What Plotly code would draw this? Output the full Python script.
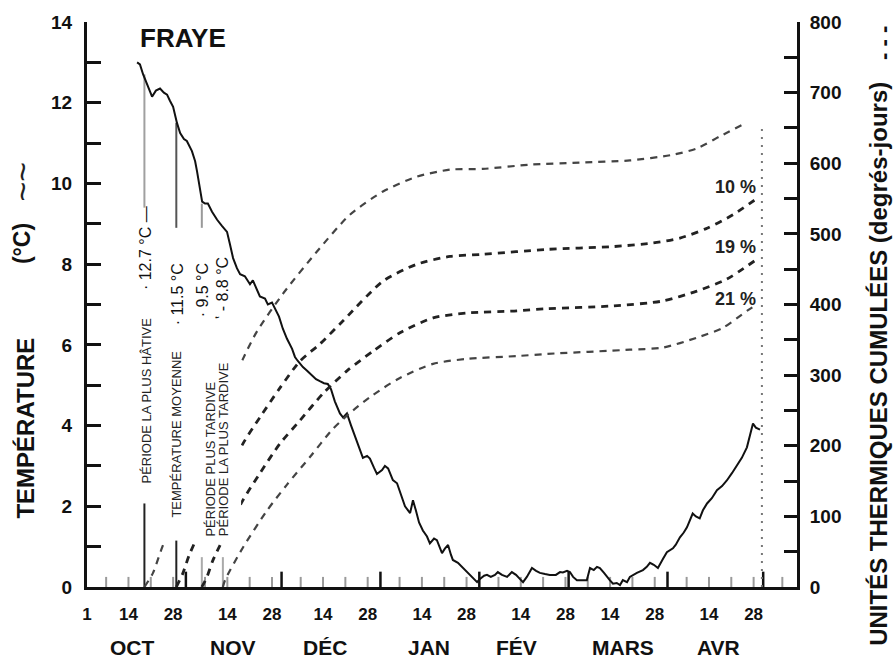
import plotly.graph_objects as go

# ---------------- data ----------------
# day index: 0 = 1 October
temp_day = [15.7,16.6,17.6,18.8,20.4,21.6,22.9,24.1,25.1,26.0,
            27.0,28.2,29.2,30.4,31.3,32.9,33.9,34.5,35.4,36.1,
            37.0,37.9,39.2,40.8,42.3,43.9,44.8,45.8,47.0,48.0,
            49.5,51.1,52.0,53.3,54.2,55.8,56.7,58.0,58.9,60.2,
            61.4,62.7,64.3,65.2,66.1,67.7,69.0,70.5,71.8,73.0,
            74.3,75.5,76.5,77.7,79.3,80.3,81.5,82.8,84.0,85.3,
            86.5,87.8,88.7,90.0,90.9,92.5,93.4,94.4,95.9,97.2,
            98.4,99.7,101.3,102.2,103.1,104.1,105.3,106.6,107.5,108.8,
            109.7,110.7,111.3,112.2,113.2,114.1,114.7,116.3,117.9,119.4,
            120.7,122.3,123.2,124.5,125.4,126.6,127.9,128.8,130.1,131.7,
            133.2,134.5,135.7,136.7,137.9,139.5,140.8,142.0,143.6,145.1,
            147.0,148.3,149.2,150.5,151.4,152.4,153.6,155.2,156.7,157.7,
            158.9,159.9,160.8,162.1,163.0,163.9,164.9,166.1,167.1,168.0,
            169.3,170.2,172.4,174.3,175.5,176.5,177.7,179.0,180.6,181.8,
            183.7,184.6,185.9,187.1,188.1,189.0,189.9,190.9,192.1,193.1,
            194.4,195.9,197.5,199.1,200.6,202.2,203.8,205.3,206.9,207.8,
            208.8,209.7,211.0]
temp_c = [13.0,12.95,12.7,12.45,12.15,12.3,12.35,12.25,12.2,12.05,
          11.9,11.5,11.25,11.1,11.05,10.8,10.55,10.3,9.9,9.55,
          9.5,9.5,9.3,9.1,8.95,8.8,8.5,8.15,7.9,7.75,
          7.7,7.5,7.6,7.35,7.2,7.15,7.0,7.05,6.9,6.7,
          6.4,6.15,5.9,5.7,5.6,5.45,5.36,5.25,5.15,5.1,
          5.05,5.03,4.9,4.6,4.3,4.2,4.3,4.0,3.75,3.45,
          3.2,3.25,3.18,2.95,2.8,2.9,3.0,2.94,2.65,2.57,
          2.3,2.0,1.83,2.15,1.9,1.6,1.4,1.25,1.08,1.2,
          1.16,0.95,0.84,0.95,1.04,0.8,0.67,0.6,0.47,0.35,
          0.25,0.12,0.2,0.28,0.3,0.25,0.3,0.37,0.3,0.25,
          0.37,0.3,0.2,0.12,0.25,0.47,0.4,0.35,0.32,0.3,
          0.3,0.37,0.36,0.4,0.37,0.25,0.17,0.17,0.17,0.47,
          0.42,0.5,0.47,0.35,0.25,0.17,0.08,0.1,0.05,0.17,
          0.12,0.25,0.35,0.42,0.5,0.6,0.55,0.47,0.7,0.86,
          0.96,1.05,1.23,1.35,1.48,1.65,1.82,1.75,1.7,1.9,
          2.07,2.2,2.4,2.5,2.64,2.82,3.0,3.2,3.46,3.75,
          4.05,3.95,3.9]

# cumulative thermal units (degree-days) for the four spawning dates
cum_a_day = [18.0,20.7,23.8,48.9,53.3,61.4,72.1,82.4,92.8,103.4,113.8,124.1,138.9,154.5,170.2,183.7,191.2,198.4,205.3]
cum_a_u   = [0,20,59,323,362,415,475,527,560,581,591,592,598,601,604,612,621,638,654]
cum_b_day = [28.0,30.1,32.3,48.9,54.2,60.5,66.8,73.0,80.3,92.8,103.4,113.8,124.1,144.2,164.9,177.4,185.9,194.4,202.5,210.0]
cum_b_u   = [0,20,48,203,240,282,320,344,377,433,457,468,471,478,482,487,494,508,527,550]
cum_c_day = [36.0,37.6,39.5,48.9,54.2,60.5,66.8,74.0,81.5,89.7,98.1,108.5,119.1,134.8,144.2,164.9,180.6,191.2,200.6,210.0]
cum_c_u   = [0,14,38,123,161,203,236,274,306,334,360,381,388,391,394,398,405,419,436,464]
cum_d_day = [42.6,43.3,48.9,56.4,62.7,69.9,77.1,83.4,89.7,98.1,108.5,119.1,134.8,144.2,170.2,180.6,191.2,199.4,206.9,210.0]
cum_d_u   = [0,10,56,108,145,184,224,250,272,296,316,323,327,330,336,339,353,367,391,400]

# spawning dates and temperatures
spawn_day = [18.0, 28.0, 36.0, 42.6]
spawn_temp = [12.7, 11.5, 9.5, 8.8]
spawn_temp_labels = ["· 12.7 °C —", "· 11.5 °C", "· 9.5 °C", "ʽ - 8.8 °C"]
spawn_period_labels = ["PÉRIODE LA PLUS HÂTIVE", "TEMPÉRATURE MOYENNE",
                       "PÉRIODE PLUS TARDIVE", "PÉRIODE LA PLUS TARDIVE"]

survival_labels = ["10 %", "19 %", "21 %"]
survival_u = [567, 482, 408]

emergence_day = 211.6      # 1er mai
emergence_top_u = 654

# axis labels
month_names = ["OCT", "NOV", "DÉC", "JAN", "FÉV", "MARS", "AVR"]
month_label_day = [14.4, 45.8, 74.6, 107.2, 134.8, 168.0, 198.0]
month_lengths = [31, 30, 31, 31, 28, 31, 30, 31]   # Oct .. May
xtick_days = [0, 13, 27, 44, 58, 74, 88, 105, 119, 136, 150, 164, 178, 195, 209]
xtick_text = ["1", "14", "28", "14", "28", "14", "28", "14", "28", "14", "28", "14", "28", "14", "28"]
temp_ticks = list(range(0, 15))
unit_ticks = list(range(0, 801, 50))

# ---------------- figure ----------------
X_MAX = 222.6
FONT = "Liberation Sans, Arial, Helvetica, sans-serif"

fig = go.Figure()

# tick marks along the time axis (weekly ticks + month starts)
month_starts = [0]
for m in month_lengths:
    month_starts.append(month_starts[-1] + m)
week_x, week_y, mon_x, mon_y = [], [], [], []
for s in month_starts:
    for k in (6, 13, 20, 27):
        d = s + k
        if d < X_MAX:
            week_x += [d, d, None]
            week_y += [0, 0.25, None]
    if 0 < s < X_MAX:
        mon_x += [s, s, None]
        mon_y += [0, 0.38, None]
fig.add_trace(go.Scatter(x=week_x, y=week_y, mode="lines",
                         line=dict(color="#9a9a9a", width=2), hoverinfo="skip"))
fig.add_trace(go.Scatter(x=mon_x, y=mon_y, mode="lines",
                         line=dict(color="#111", width=2.5), hoverinfo="skip"))

# cumulative degree-day curves (right axis)
curve_styles = [("#444", 2.2), ("#222", 2.8), ("#222", 2.8), ("#444", 2.2)]
for (dx, du), (col, w) in zip([(cum_a_day, cum_a_u), (cum_b_day, cum_b_u),
                                (cum_c_day, cum_c_u), (cum_d_day, cum_d_u)], curve_styles):
    fig.add_trace(go.Scatter(x=dx, y=du, yaxis="y2", mode="lines",
                             line=dict(color=col, width=w, dash="7px,6px",
                                       shape="spline", smoothing=0.7),
                             hoverinfo="skip"))

# emergence (1er mai) dotted line
fig.add_trace(go.Scatter(x=[emergence_day, emergence_day], y=[0, emergence_top_u],
                         yaxis="y2", mode="lines",
                         line=dict(color="#777", width=2, dash="2px,6px"),
                         hoverinfo="skip"))

# spawning-date vertical lines
upper_end = [9.4, 8.9, 8.9, None]
upper_col = ["#a0a0a0", "#555", "#999", None]
lower_top = [2.07, 1.16, 0.74, 0.74]
lower_col = ["#222", "#222", "#aaa", "#aaa"]
for d, t, ue, uc, lt, lc in zip(spawn_day, spawn_temp, upper_end, upper_col, lower_top, lower_col):
    if ue is not None:
        fig.add_trace(go.Scatter(x=[d, d], y=[t, ue], mode="lines",
                                 line=dict(color=uc, width=2), hoverinfo="skip"))
    fig.add_trace(go.Scatter(x=[d, d], y=[0, lt], mode="lines",
                             line=dict(color=lc, width=2), hoverinfo="skip"))

# temperature curve (left axis)
fig.add_trace(go.Scatter(x=temp_day, y=temp_c, mode="lines",
                         line=dict(color="#111", width=2), hoverinfo="skip"))

# white panel behind the vertical labels (hides the start of the dashed curves)
fig.add_shape(type="rect", xref="x", yref="y", x0=19.8, x1=48.3, y0=1.15, y1=6.6,
              fillcolor="white", line=dict(width=0), layer="above")

# ---- annotations ----
ann = []
val_pos = [(18.2, 8.4), (28.2, 7.25), (36.05, 7.35), (42.3, 7.4)]
for (x, y), txt in zip(val_pos, spawn_temp_labels):
    ann.append(dict(x=x, y=y, xref="x", yref="y", text=txt, textangle=-90,
                    showarrow=False, xanchor="center", yanchor="middle",
                    font=dict(family=FONT, size=16, color="#111")))
per_pos = [(18.8, 4.62), (28.2, 3.8), (38.6, 3.16), (42.9, 3.41)]
for (x, y), txt in zip(per_pos, spawn_period_labels):
    ann.append(dict(x=x, y=y, xref="x", yref="y", text=txt, textangle=-90,
                    showarrow=False, xanchor="center", yanchor="middle",
                    font=dict(family=FONT, size=13, color="#222")))
for txt, u in zip(survival_labels, survival_u):
    ann.append(dict(x=210.3, y=u, xref="x", yref="y2", text=txt, showarrow=False,
                    xanchor="right", yanchor="middle",
                    font=dict(family=FONT, size=18, color="#222", weight="bold")))
ann.append(dict(x=16.0, y=13.6, xref="x", yref="y", text="FRAYE", showarrow=False,
                xanchor="left", yanchor="middle",
                font=dict(family=FONT, size=26, color="#111", weight="bold")))
ann.append(dict(x=157.4, y=14.25, xref="x", yref="y",
                text="AVANT LA<br>MONTAISON<br>1<sup>er</sup> MAI<br>ALEVINS VIVANTS",
                showarrow=False, xanchor="left", yanchor="top", align="left",
                font=dict(family=FONT, size=18, color="#111", weight="bold")))
for name, d in zip(month_names, month_label_day):
    ann.append(dict(x=d, y=-0.1076, xref="x", yref="paper", text=name, showarrow=False,
                    xanchor="center", yanchor="middle",
                    font=dict(family=FONT, size=21, color="#111", weight="bold")))
# axis titles
ann.append(dict(x=-0.0859, y=0.2804, xref="paper", yref="paper", text="TEMPÉRATURE",
                textangle=-90, showarrow=False, xanchor="center", yanchor="middle",
                font=dict(family=FONT, size=24, color="#111", weight="bold")))
ann.append(dict(x=-0.0915, y=0.607, xref="paper", yref="paper", text="(°C)",
                textangle=-90, showarrow=False, xanchor="center", yanchor="middle",
                font=dict(family=FONT, size=23, color="#111", weight="bold")))
ann.append(dict(x=-0.092, y=0.717, xref="paper", yref="paper", text="~~",
                textangle=-90, showarrow=False, xanchor="center", yanchor="middle",
                font=dict(family=FONT, size=34, color="#222")))
ann.append(dict(x=1.1155, y=0.395, xref="paper", yref="paper",
                text="UNITÉS THERMIQUES CUMULÉES (degrés-jours)",
                textangle=-90, showarrow=False, xanchor="center", yanchor="middle",
                font=dict(family=FONT, size=24, color="#111", weight="bold")))
ann.append(dict(x=1.1225, y=0.963, xref="paper", yref="paper", text="- - -",
                textangle=-90, showarrow=False, xanchor="center", yanchor="middle",
                font=dict(family=FONT, size=22, color="#111", weight="bold")))

fig.update_layout(
    width=896, height=659,
    margin=dict(l=87, r=99, t=20, b=72, pad=0),
    paper_bgcolor="white", plot_bgcolor="white",
    showlegend=False,
    annotations=ann,
    xaxis=dict(range=[0, X_MAX], showgrid=False, zeroline=False,
               showline=True, linewidth=3, linecolor="#111",
               tickmode="array", tickvals=xtick_days, ticktext=xtick_text,
               ticks="", ticklabelstandoff=10,
               tickfont=dict(family=FONT, size=17, color="#111", weight="bold")),
    yaxis=dict(range=[0, 14], showgrid=False, zeroline=False,
               showline=True, linewidth=3, linecolor="#111",
               tickmode="array", tickvals=temp_ticks,
               ticktext=[str(v) if v % 2 == 0 else "" for v in temp_ticks],
               ticks="inside", ticklen=14, tickwidth=3, tickcolor="#111",
               ticklabelstandoff=8,
               tickfont=dict(family=FONT, size=19, color="#111", weight="bold")),
    yaxis2=dict(range=[0, 800], overlaying="y", side="right", anchor="x",
                showgrid=False, zeroline=False,
                showline=True, linewidth=3, linecolor="#111",
                tickmode="array", tickvals=unit_ticks,
                ticktext=[str(v) if v % 100 == 0 else "" for v in unit_ticks],
                ticks="inside", ticklen=13, tickwidth=3, tickcolor="#111",
                ticklabelstandoff=6,
                tickfont=dict(family=FONT, size=19, color="#111", weight="bold")),
)

fig.write_html("out.html")
